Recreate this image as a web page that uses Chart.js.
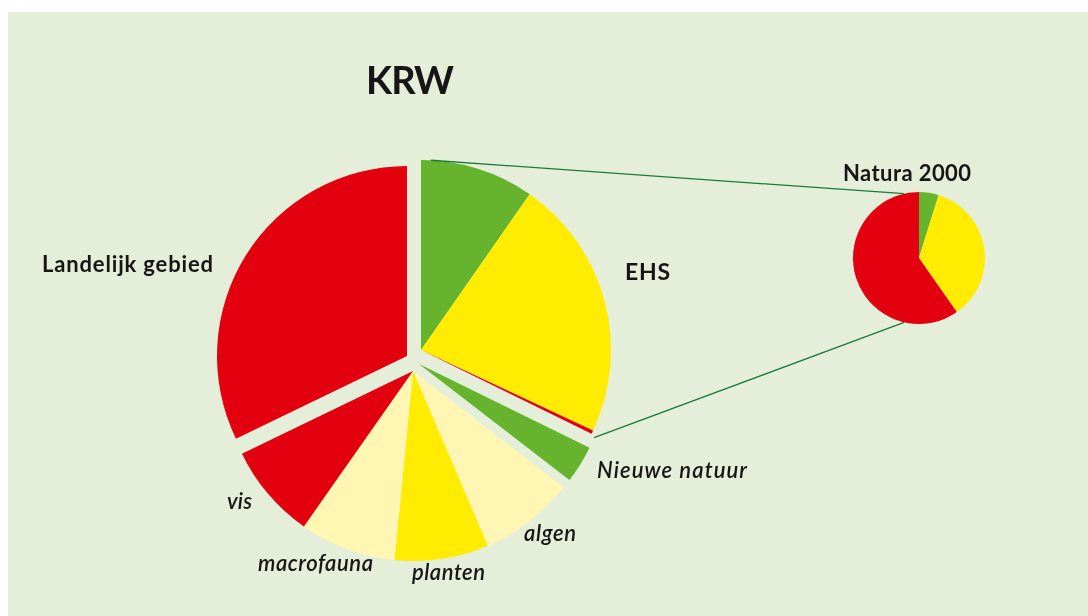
<!DOCTYPE html>
<html lang="nl">
<head>
<meta charset="utf-8">
<title>KRW</title>
<script src="https://cdn.jsdelivr.net/npm/chart.js@4.4.1/dist/chart.umd.min.js"></script>
<style>
  html, body { margin: 0; padding: 0; background: #fff; }
  #wrap { position: relative; width: 1088px; height: 616px; overflow: hidden; }
  #paneel { position: absolute; left: 8px; top: 12px; right: 0; bottom: 0; background: #e4eed9; }
  canvas, svg { position: absolute; left: 0; top: 0; }
  svg text { font-family: Lato, "Open Sans", sans-serif; fill: #161616; }
</style>
</head>
<body>
<div id="wrap">
  <div id="paneel"></div>
  <canvas id="krwChart" width="1088" height="616"></canvas>
  <canvas id="naturaChart" width="1088" height="616"></canvas>
  <svg id="teksten" width="1088" height="616"></svg>
</div>
<script>
// grote taart, met de klok mee vanaf 12 uur (aandeel in %)
const categorieen = ['EHS goed', 'EHS matig', 'EHS slecht', 'Nieuwe natuur', 'algen', 'planten', 'macrofauna', 'vis', 'Landelijk gebied'];
const groepen = ['EHS', 'EHS', 'EHS', 'Nieuwe natuur', 'KRW', 'KRW', 'KRW', 'KRW', 'Landelijk gebied'];
const aandelen = [9.7, 22.3, 0.3, 3.2, 8.1, 8.0, 8.2, 8.1, 32.2];

// kleine taart Natura 2000
const naturaCategorieen = ['goed', 'matig', 'slecht'];
const naturaAandelen = [4.8, 35.5, 59.7];

// teksten
const titel = 'KRW';
const naturaTitel = 'Natura 2000';

// kleuren
const rood = '#e3000f', groen = '#66b32e', geel = '#ffec00', lichtgeel = '#fef6b2';
const kleuren = [groen, geel, rood, groen, lichtgeel, geel, lichtgeel, rood, rood];
const naturaKleuren = [groen, geel, rood];

// groepen een stukje uit elkaar schuiven (px)
const verschuiving = {
    'EHS': [12, -7],
    'Nieuwe natuur': [10, 7],
    'KRW': [4, 14],
    'Landelijk gebied': [-2, -1]
};

const uitElkaar = {
    id: 'uitElkaar',
    afterDatasetUpdate(chart, args) {
        args.meta.data.forEach((arc, i) => {
            const d = verschuiving[groepen[i]];
            arc.x += d[0];
            arc.y += d[1];
        });
    }
};

const basisOpties = (padding) => ({
    responsive: false,
    animation: false,
    events: [],
    layout: { padding: padding },
    plugins: { legend: { display: false }, tooltip: { enabled: false } }
});

const krwChart = new Chart(document.getElementById('krwChart'), {
    type: 'pie',
    data: {
        labels: categorieen,
        datasets: [{
            data: aandelen,
            backgroundColor: kleuren,
            borderWidth: 0, hoverBorderWidth: 0, hoverOffset: 0
        }]
    },
    options: basisOpties({ left: 219, right: 489, top: 167, bottom: 69 }),
    plugins: [uitElkaar]
});

const naturaChart = new Chart(document.getElementById('naturaChart'), {
    type: 'pie',
    data: {
        labels: naturaCategorieen,
        datasets: [{
            data: naturaAandelen,
            backgroundColor: naturaKleuren,
            borderWidth: 0, hoverBorderWidth: 0, hoverOffset: 0
        }]
    },
    options: basisOpties({ left: 853, right: 103, top: 192, bottom: 292 })
});

// verbindingslijnen tussen de taarten
const svg = document.getElementById('teksten');
const NS = 'http://www.w3.org/2000/svg';
const rad = (g) => g * Math.PI / 180;

function punt(arc, hoek, extra) {
    const r = arc.outerRadius + extra;
    return [arc.x + r * Math.cos(hoek), arc.y + r * Math.sin(hoek)];
}

const ehs = krwChart.getDatasetMeta(0).data;
const nat = naturaChart.getDatasetMeta(0).data;
const lijnen = [
    [punt(ehs[0], ehs[0].startAngle + rad(3), 0), punt(nat[2], rad(-90 - 13), 0)],
    [punt(ehs[2], ehs[2].endAngle + rad(0.7), 4), punt(nat[2], rad(-90 + 193), 0)]
];
lijnen.forEach(([a, b]) => {
    const l = document.createElementNS(NS, 'line');
    l.setAttribute('x1', a[0]); l.setAttribute('y1', a[1]);
    l.setAttribute('x2', b[0]); l.setAttribute('y2', b[1]);
    l.setAttribute('stroke', '#1b7a3a');
    l.setAttribute('stroke-width', '1.3');
    svg.appendChild(l);
});

// labels (x, y = basislijn, breedte = tekstbreedte in px)
const labels = [
    { tekst: titel, x: 410, y: 94, grootte: 38, breedte: 88, vet: true, anker: 'middle' },
    { tekst: 'Landelijk gebied', x: 42, y: 272, grootte: 22, breedte: 171, vet: true },
    { tekst: 'EHS', x: 625, y: 280, grootte: 23, breedte: 45, vet: true },
    { tekst: naturaTitel, x: 843, y: 181, grootte: 22, breedte: 128, vet: true },
    { tekst: categorieen[3], x: 597, y: 478, grootte: 22, breedte: 150 },
    { tekst: categorieen[4], x: 524, y: 541, grootte: 22, breedte: 52 },
    { tekst: categorieen[5], x: 412, y: 580, grootte: 22, breedte: 73 },
    { tekst: categorieen[6], x: 258, y: 571, grootte: 22, breedte: 115 },
    { tekst: categorieen[7], x: 227, y: 509, grootte: 22, breedte: 25 }
];
labels.forEach(l => {
    const t = document.createElementNS(NS, 'text');
    t.setAttribute('x', l.x);
    t.setAttribute('y', l.y);
    t.setAttribute('font-size', l.grootte);
    t.setAttribute('font-weight', l.vet ? 'bold' : '600');
    t.setAttribute('font-style', l.vet ? 'normal' : 'italic');
    t.setAttribute('text-anchor', l.anker || 'start');
    t.setAttribute('textLength', l.breedte);
    t.setAttribute('lengthAdjust', 'spacing');
    t.textContent = l.tekst;
    svg.appendChild(t);
});
</script>
</body>
</html>
